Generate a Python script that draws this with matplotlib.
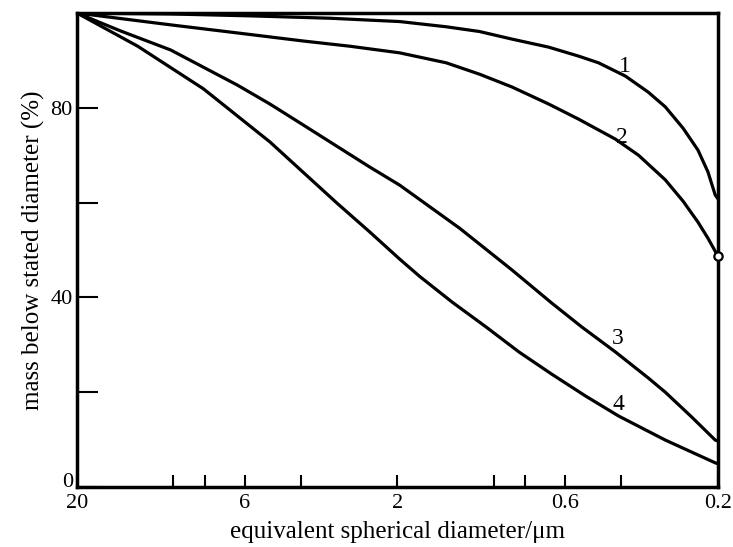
import matplotlib
matplotlib.use("Agg")
import matplotlib.pyplot as plt
from matplotlib.ticker import FixedLocator, NullFormatter

plt.rcParams['font.family'] = ['Liberation Serif', 'DejaVu Serif']

# diameters (um) and cumulative mass below stated diameter (%)
d1 = [20, 10.2, 5.76, 3.25, 1.97, 1.41, 1.11, 0.879, 0.675, 0.544, 0.472, 0.389,
      0.330, 0.292, 0.257, 0.231, 0.215, 0.204, 0.2]
m1 = [100, 99.8, 99.4, 98.9, 98.2, 97.1, 96.1, 94.5, 92.8, 90.9, 89.5, 86.7,
      83.3, 80.2, 75.7, 71.1, 66.5, 61.6, 60.8]

d2 = [20, 10.2, 6.32, 3.94, 2.82, 1.97, 1.41, 1.11, 0.879, 0.675, 0.544, 0.418,
      0.354, 0.292, 0.257, 0.231, 0.215, 0.2]
m2 = [100, 97.5, 95.8, 94.1, 93.0, 91.6, 89.5, 87.1, 84.4, 80.8, 77.6, 73.4,
      70.0, 64.8, 60.3, 55.9, 52.5, 48.7]

d3 = [20, 14.6, 10.2, 6.32, 5.0, 3.94, 2.44, 1.97, 1.28, 0.879, 0.66, 0.533,
      0.418, 0.330, 0.292, 0.241, 0.204, 0.2]
m3 = [100, 96.2, 92.2, 84.8, 80.8, 76.4, 67.5, 63.7, 54.6, 45.8, 38.8, 33.8,
      28.5, 23.0, 20.0, 14.7, 9.9, 9.7]

d4 = [20, 12.93, 8.06, 5.0, 3.09, 2.44, 1.97, 1.71, 1.35, 1.06, 0.836, 0.66,
      0.518, 0.409, 0.292, 0.204, 0.2]
m4 = [100, 93.0, 84.0, 72.8, 59.9, 53.8, 48.1, 44.5, 39.0, 33.8, 28.5, 23.8,
      19.2, 15.0, 9.9, 5.1, 4.9]

curves = [(d1, m1), (d2, m2), (d3, m3), (d4, m4)]
labels = ['1', '2', '3', '4']
label_pos = [(0.39, 88.8), (0.40, 73.8), (0.41, 31.3), (0.41, 17.4)]

x_major = [20, 6, 2, 0.6, 0.2]
x_major_labels = ['20', '6', '2', '0.6', '0.2']
x_minor = [10, 8, 4, 1, 0.8, 0.4]
y_ticks = [0, 20, 40, 60, 80]
y_tick_labels = ['0', '', '40', '', '80']

fig = plt.figure(figsize=(7.33, 5.47), dpi=100)
ax = fig.add_axes([0.105, 0.1097, 0.8745, 0.8665])

for (d, m), lab, (lx, ly) in zip(curves, labels, label_pos):
    ax.plot(d, m, color='black', lw=2.3, solid_joinstyle='round')
    ax.text(lx, ly, lab, fontsize=17, ha='center', va='center')

# open circle at end of curve 2
ax.plot([d2[-1]], [m2[-1]], marker='o', ms=6, mfc='white', mec='black', mew=1.6,
        clip_on=False, zorder=5)

ax.set_xscale('log')
ax.set_xlim(20, 0.2)
ax.set_ylim(0, 100)

ax.xaxis.set_major_locator(FixedLocator(x_major))
ax.set_xticklabels(x_major_labels)
ax.xaxis.set_minor_locator(FixedLocator(x_minor))
ax.xaxis.set_minor_formatter(NullFormatter())
ax.set_yticks(y_ticks)
ax.set_yticklabels(y_tick_labels)
ax.get_yticklabels()[0].set_va('baseline')

ax.tick_params(axis='x', which='both', direction='in', length=9, width=1.5,
               labelsize=16, pad=5, top=False)
ax.tick_params(axis='y', direction='in', length=15, width=1.5,
               labelsize=16, pad=3, right=False)

for s in ax.spines.values():
    s.set_linewidth(2.5)

ax.set_xlabel('equivalent spherical diameter/\u03bcm', fontsize=18, labelpad=6)
ax.set_ylabel('mass below stated diameter (%)', fontsize=18, labelpad=4)

fig.savefig('out.png', dpi=100)
